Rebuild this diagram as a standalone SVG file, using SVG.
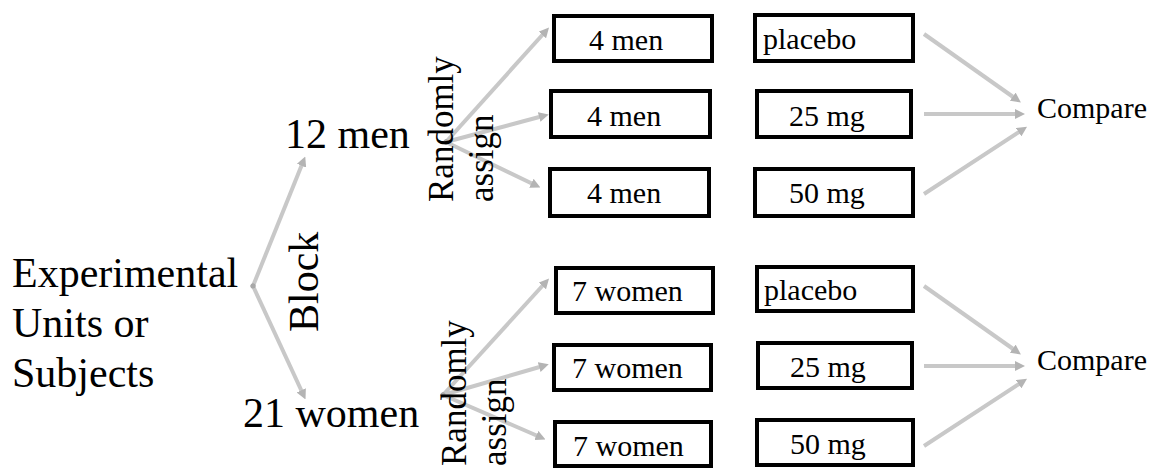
<svg xmlns="http://www.w3.org/2000/svg" width="1153" height="468" viewBox="0 0 1153 468">
  <defs>
    <marker id="head" viewBox="0 0 10 10" refX="4" refY="5" markerWidth="10" markerHeight="10" markerUnits="userSpaceOnUse" orient="auto">
      <path d="M0,0 L10,5 L0,10 z" fill="#b4b4b4"/>
    </marker>
    <marker id="dot" viewBox="0 0 6 6" refX="3" refY="3" markerWidth="6" markerHeight="6" markerUnits="userSpaceOnUse">
      <circle cx="3" cy="3" r="2.5" fill="#a8a8a8"/>
    </marker>
    <style>
      text { font-family: "Liberation Serif", "Times New Roman", serif; fill: #000; }
      .big { font-size: 42px; }
      .mid { font-size: 35px; }
      .box { font-size: 30px; }
      .frame { fill: #fff; stroke: #000; stroke-width: 4; }
      .arrow { fill: none; stroke: #c8c8c8; stroke-width: 4; marker-end: url(#head); }
      .from { marker-start: url(#dot); }
    </style>
  </defs>
  <rect width="1153" height="468" fill="#fff"/>

  <!-- connectors -->
  <g id="connectors">
    <!-- blocking -->
    <line class="arrow from" x1="253" y1="286" x2="303" y2="162"/>
    <line class="arrow from" x1="253" y1="286" x2="303" y2="394"/>
    <!-- random assignment, men -->
    <line class="arrow from" x1="446" y1="142" x2="545" y2="32"/>
    <line class="arrow from" x1="446" y1="142" x2="543" y2="116"/>
    <line class="arrow from" x1="446" y1="142" x2="535" y2="185"/>
    <!-- random assignment, women -->
    <line class="arrow from" x1="443" y1="395" x2="545" y2="283"/>
    <line class="arrow from" x1="443" y1="395" x2="543" y2="366"/>
    <line class="arrow from" x1="443" y1="395" x2="540" y2="437"/>
    <!-- treatments to comparison, men -->
    <line class="arrow" x1="924" y1="34" x2="1016" y2="99"/>
    <line class="arrow" x1="924" y1="114" x2="1019" y2="114"/>
    <line class="arrow" x1="924" y1="194" x2="1022" y2="130"/>
    <!-- treatments to comparison, women -->
    <line class="arrow" x1="924" y1="286" x2="1016" y2="351"/>
    <line class="arrow" x1="924" y1="366" x2="1019" y2="366"/>
    <line class="arrow" x1="924" y1="446" x2="1022" y2="382"/>
  </g>

  <g id="units">
    <text class="big" x="12" y="287">Experimental</text>
    <text class="big" x="12" y="337">Units or</text>
    <text class="big" x="12" y="387">Subjects</text>
  </g>
  <g id="block-label">
    <text class="big" transform="translate(318,332) rotate(-90)">Block</text>
  </g>

  <g id="men">
    <text class="big" x="285" y="148">12 men</text>
  </g>
  <g id="women">
    <text class="big" x="243" y="427">21 women</text>
  </g>

  <g id="assign-men">
    <text class="mid" transform="translate(453,202) rotate(-90)"><tspan x="0" y="0">Randomly</tspan><tspan x="0" y="40">assign</tspan></text>
  </g>
  <g id="assign-women">
    <text class="mid" transform="translate(466,466) rotate(-90)"><tspan x="0" y="0">Randomly</tspan><tspan x="0" y="40">assign</tspan></text>
  </g>

  <!-- men: groups -->
  <g id="men-group-1"><rect class="frame" x="554" y="16" width="158" height="45"/><text class="box" x="589" y="50">4 men</text></g>
  <g id="men-group-2"><rect class="frame" x="551" y="91" width="159" height="46"/><text class="box" x="587" y="126">4 men</text></g>
  <g id="men-group-3"><rect class="frame" x="550" y="169" width="159" height="47"/><text class="box" x="587" y="203">4 men</text></g>

  <!-- men: treatments -->
  <g id="men-placebo"><rect class="frame" x="755" y="15" width="158" height="46"/><text class="box" x="763" y="49">placebo</text></g>
  <g id="men-25mg"><rect class="frame" x="757" y="91" width="154" height="46"/><text class="box" x="789" y="126">25 mg</text></g>
  <g id="men-50mg"><rect class="frame" x="755" y="169" width="158" height="47"/><text class="box" x="789" y="203">50 mg</text></g>

  <g id="men-compare"><text class="box" x="1037" y="118">Compare</text></g>

  <!-- women: groups -->
  <g id="women-group-1"><rect class="frame" x="556" y="268" width="157" height="45"/><text class="box" x="572" y="301">7 women</text></g>
  <g id="women-group-2"><rect class="frame" x="554" y="345" width="157" height="45"/><text class="box" x="572" y="378">7 women</text></g>
  <g id="women-group-3"><rect class="frame" x="555" y="422" width="156" height="44"/><text class="box" x="573" y="456">7 women</text></g>

  <!-- women: treatments -->
  <g id="women-placebo"><rect class="frame" x="757" y="267" width="156" height="44"/><text class="box" x="764" y="300">placebo</text></g>
  <g id="women-25mg"><rect class="frame" x="758" y="343" width="154" height="45"/><text class="box" x="790" y="377">25 mg</text></g>
  <g id="women-50mg"><rect class="frame" x="757" y="420" width="156" height="45"/><text class="box" x="790" y="454">50 mg</text></g>

  <g id="women-compare"><text class="box" x="1037" y="370">Compare</text></g>
</svg>
